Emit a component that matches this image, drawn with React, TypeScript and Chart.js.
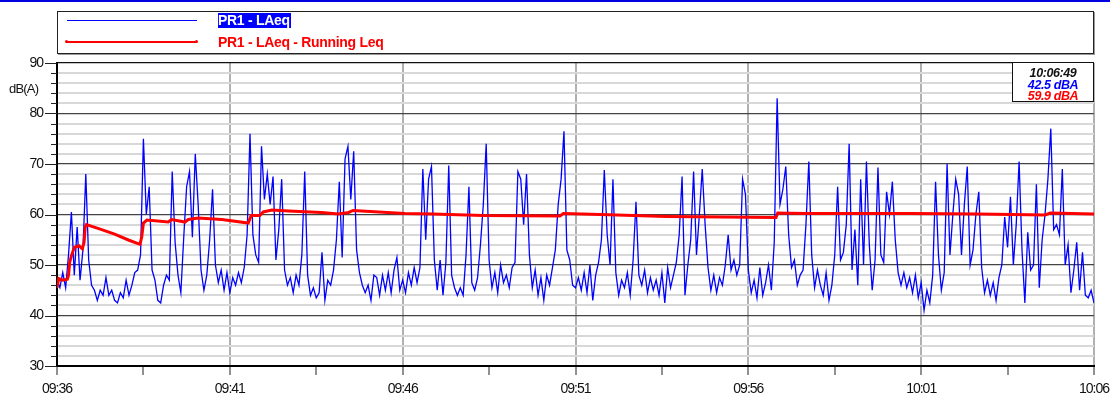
import React, { useEffect, useRef } from 'react';
import { Chart, registerables } from 'chart.js';

Chart.register(...registerables);

// ---- data ----
const stepSeconds = 5; // LAeq samples every 5 s from 09:36:00
const laeqValues = [
  47, 45.5, 48.5, 45.5, 52, 60.5, 48, 57.5, 47, 53,
  68, 51, 46, 45, 43, 45, 44, 47.5, 44, 45,
  43, 42.5, 44.5, 43.5, 47, 44, 46, 48.5, 49, 52,
  75, 60, 65.5, 49, 47, 43, 42.5, 46, 48, 47,
  68.5, 54.5, 48, 44.5, 55.5, 65.5, 68.5, 55.5, 72, 62,
  49, 45, 48, 55, 65, 50, 46.5, 49, 45, 48.5,
  44.5, 47.5, 46, 48.5, 46.5, 49.5, 56, 76, 56, 52,
  50.5, 73.5, 63, 68, 62, 67.5, 51, 57, 67, 49,
  46, 47.5, 44.5, 48, 46, 52, 68.5, 48, 44, 45.5,
  43.5, 44.5, 52.5, 43, 47, 46, 49, 55, 66.5, 51.5,
  71, 73.5, 63, 72.5, 53, 48.5, 46, 44.5, 46, 43,
  48, 47.5, 44, 48, 45, 48.5, 44.5, 49, 51.5, 45,
  47, 44.5, 48.5, 46, 49.5, 46.5, 49.5, 69, 55, 67,
  69.5, 51, 45, 51, 44, 50.5, 69.7, 48, 45.5, 44,
  45.5, 44, 52, 65.5, 46.5, 45, 47.5, 54, 62, 74,
  51, 45.5, 48.5, 44.5, 50, 46.5, 48, 45.5, 49.5, 50.5,
  68.5, 67, 58, 68, 52, 45.5, 49, 44, 47.5, 43,
  48, 46, 49.5, 53, 62, 67, 76.5, 53, 51, 46,
  45.5, 47.5, 45, 48.5, 44.5, 50, 43, 48, 50.5, 55,
  68.8, 56, 50, 67, 48.5, 44, 47, 45.5, 48.5, 44,
  51, 62.5, 48, 46, 49, 44.5, 47.5, 45, 47, 44,
  48.5, 42.5, 49.5, 45.5, 48, 50.5, 56, 67.5, 44, 50,
  55, 68.5, 52, 60, 69, 58, 49.5, 45, 48, 44.5,
  47.5, 46, 50, 56, 49, 51, 48, 50, 67, 64,
  49, 44.5, 47, 43.5, 49.5, 44, 46.5, 50, 45, 54.5,
  83, 62, 65, 69.5, 56, 49.5, 51, 46, 48, 49,
  58, 70.5, 52, 45.5, 49, 46, 44, 48.5, 43, 46,
  52, 65.5, 51, 52.5, 58, 74, 49, 57, 46, 67,
  50, 70.5, 54, 45, 51, 69.3, 52, 50.5, 64.5, 60,
  66.5, 55, 48.5, 46, 48.5, 45.5, 47.5, 44.5, 48, 43.5,
  46.5, 41, 45, 42.5, 48, 66.5, 52, 45, 48.5, 70,
  52, 60, 67, 64, 52, 62, 69.5, 50, 53, 60,
  64.5, 49.5, 44.5, 47, 44, 46.5, 43, 47.5, 50, 59.5,
  53.5, 63.5, 50, 58, 70.5, 53, 42.5, 56.5, 49, 50,
  66, 45.5, 55, 60, 67, 77, 57, 58, 56, 69,
  50, 54, 44.5, 49, 54.5, 45, 52.5, 44, 43.5, 45, 42.5,
];

// Running Leq (seconds after 09:36:00, dB(A))
const runningTimes = [
  0, 3, 10, 18, 20, 22, 25, 30, 38, 44, 47, 49, 51, 75, 100, 125, 144, 147, 150, 156,
  193, 199, 222, 228, 245, 286, 332, 337, 352, 358, 373, 402, 459, 488, 506, 514, 604,
  652, 740, 873, 879, 943, 1058, 1248, 1251, 1300, 1480, 1600, 1715, 1724, 1800,
];
const runningValues = [
  45.5, 47.3, 47, 47.2, 48, 50.5, 51.8, 53.5, 53.8, 53.2, 54.5, 57.5, 58, 57.1, 56.1, 54.9, 54.1, 55.5, 58.3, 58.9,
  58.5, 59, 58.5, 59, 59.3, 59, 58.3, 59.8, 59.8, 60.5, 60.9, 60.7, 60.4, 60.1, 60.4, 60.8, 60.2,
  60.1, 59.8, 59.7, 60.2, 60, 59.6, 59.4, 60.3, 60.2, 60.2, 60.1, 59.9, 60.3, 60.1,
];

const xTickLabels = ['09:36', '09:41', '09:46', '09:51', '09:56', '10:01', '10:06'];
const seriesNames = ['PR1 - LAeq', 'PR1 - LAeq - Running Leq'];
const cursorTime = '10:06:49';
const cursorValues = ['42.5 dBA', '59.9 dBA'];
const yUnit = 'dB(A)';

const BLUE = '#0000ff';
const RED = '#ff0000';
const FONT = "'Liberation Sans', Arial, sans-serif";

const axisPlugin = {
  id: 'axisExtras',
  beforeDraw(chart: any) {
    chart.ctx.letterSpacing = '-1px';
  },
  afterDraw(chart: any) {
    const ctx = chart.ctx;
    const y = chart.scales.y;
    const left = chart.chartArea.left;
    ctx.save();
    ctx.strokeStyle = '#222';
    ctx.lineWidth = 1;
    y.ticks.forEach((t: any) => {
      const py = Math.round(y.getPixelForValue(t.value)) + 0.5;
      const len = t.value % 10 === 0 ? 12 : 6;
      ctx.beginPath();
      ctx.moveTo(left - len, py);
      ctx.lineTo(left, py);
      ctx.stroke();
    });
    ctx.restore();
  },
};

export default function App() {
  const ref = useRef<HTMLCanvasElement | null>(null);

  useEffect(() => {
    if (!ref.current) return;
    const laeqData = laeqValues.map((v, i) => ({ x: i * stepSeconds, y: v }));
    const runData = runningTimes.map((t, i) => ({ x: t, y: runningValues[i] }));
    const chart = new Chart(ref.current, {
      type: 'line',
      data: {
        datasets: [
          {
            label: seriesNames[1],
            data: runData,
            borderColor: RED,
            borderWidth: 3,
            pointRadius: 0,
            tension: 0,
          },
          {
            label: seriesNames[0],
            data: laeqData,
            borderColor: BLUE,
            borderWidth: 1.3,
            pointRadius: 0,
            tension: 0,
          },
        ],
      },
      options: {
        animation: false,
        responsive: false,
        devicePixelRatio: 1,
        parsing: false as any,
        layout: { padding: { top: 63, right: 16, left: 0, bottom: 0 } },
        plugins: { legend: { display: false }, tooltip: { enabled: false } },
        font: { family: FONT },
        scales: {
          x: {
            type: 'linear',
            min: 0,
            max: 1800,
            z: 0,
            afterFit(scale: any) {
              scale.height = 30;
              scale.paddingLeft = 0;
              scale.paddingRight = 0;
            },
            afterBuildTicks(scale: any) {
              const ticks = [];
              for (let v = 0; v <= 1800; v += 150) ticks.push({ value: v });
              scale.ticks = ticks;
            },
            ticks: {
              autoSkip: false,
              maxRotation: 0,
              padding: 6,
              color: '#111',
              font: { family: FONT, size: 14 },
              callback: (value: any) => (value % 300 === 0 ? xTickLabels[value / 300] : ''),
            },
            grid: {
              color: (c: any) => (c.tick && c.tick.value % 300 === 0 ? '#b0b0b0' : 'rgba(0,0,0,0)'),
              lineWidth: 2,
              tickColor: '#222',
              tickWidth: 1,
              tickLength: 9,
              drawTicks: true,
            },
            border: { color: '#000', width: 2 },
          },
          y: {
            type: 'linear',
            min: 30,
            max: 90,
            z: -1,
            afterFit(scale: any) {
              scale.width = 57;
            },
            afterBuildTicks(scale: any) {
              const ticks = [];
              for (let v = 30; v <= 90; v += 2) ticks.push({ value: v });
              scale.ticks = ticks;
            },
            ticks: {
              autoSkip: false,
              padding: 14,
              color: '#111',
              font: { family: FONT, size: 14 },
              callback: (value: any) => (value % 10 === 0 ? String(value) : ''),
            },
            grid: {
              color: (c: any) =>
                c.tick && c.tick.value % 10 === 0 ? (c.tick.value === 90 ? '#111' : '#444') : '#d8d8d8',
              lineWidth: (c: any) => (c.tick && c.tick.value % 10 === 0 ? 1.2 : 2),
              drawTicks: false,
            },
            border: { color: '#000', width: 2 },
          },
        },
      } as any,
      plugins: [axisPlugin],
    });
    return () => chart.destroy();
  }, []);

  const textBase: React.CSSProperties = { position: 'absolute', fontFamily: FONT, whiteSpace: 'nowrap' };

  return (
    <div style={{ position: 'fixed', left: 0, top: 0, width: 1110, height: 396, background: '#fff', overflow: 'hidden' }}>
      <canvas ref={ref} width={1110} height={396} style={{ position: 'absolute', left: 0, top: 0, width: 1110, height: 396 }} />
      <div style={{ position: 'absolute', left: 0, top: 0, width: 1110, height: 2, background: '#0000e0' }} />
      {/* legend */}
      <div
        style={{
          position: 'absolute',
          left: 57,
          top: 11,
          width: 1035,
          height: 41,
          border: '1px solid #222',
          boxShadow: '1px 1px 0 #999',
          background: '#fff',
        }}
      />
      <div style={{ position: 'absolute', left: 67, top: 20, width: 130, height: 1, background: BLUE }} />
      <div style={{ position: 'absolute', left: 66, top: 41, width: 131, height: 2, background: RED }} />
      <div style={{ position: 'absolute', left: 65, top: 40, width: 3, height: 3, borderRadius: 2, background: RED }} />
      <div style={{ position: 'absolute', left: 195, top: 40, width: 3, height: 3, borderRadius: 2, background: RED }} />
      <div
        style={{
          ...textBase,
          left: 218,
          top: 13,
          height: 15,
          lineHeight: '15px',
          fontSize: 14,
          fontWeight: 'bold',
          color: '#fff',
          background: BLUE,
          letterSpacing: '-0.3px',
          paddingRight: 1,
        }}
      >
        {seriesNames[0]}
      </div>
      <div
        style={{
          ...textBase,
          left: 218,
          top: 34,
          lineHeight: '16px',
          fontSize: 14,
          fontWeight: 'bold',
          color: RED,
          letterSpacing: '-0.3px',
        }}
      >
        {seriesNames[1]}
      </div>
      {/* unit */}
      <div style={{ ...textBase, left: 9, top: 81, fontSize: 13, lineHeight: '16px', color: '#111', letterSpacing: '-0.8px' }}>
        {yUnit}
      </div>
      {/* cursor box */}
      <div
        style={{
          position: 'absolute',
          left: 1012,
          top: 62,
          width: 80,
          height: 33,
          border: '1px solid #111',
          background: '#fff',
          fontFamily: FONT,
          fontStyle: 'italic',
          fontWeight: 'bold',
          fontSize: 12.5,
          lineHeight: '11.5px',
          textAlign: 'center',
          letterSpacing: '-0.4px',
          paddingTop: 5,
          boxSizing: 'content-box',
          overflow: 'visible',
        }}
      >
        <div style={{ color: '#111' }}>{cursorTime}</div>
        <div style={{ color: BLUE }}>{cursorValues[0]}</div>
        <div style={{ color: RED }}>{cursorValues[1]}</div>
      </div>
    </div>
  );
}
